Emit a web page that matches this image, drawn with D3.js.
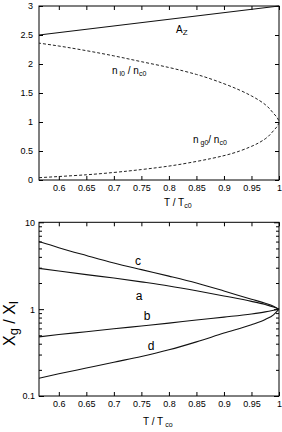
<!DOCTYPE html>
<html>
<head>
<meta charset="utf-8">
<script src="https://cdn.jsdelivr.net/npm/d3@7"></script>
<style>
  body { margin: 0; background: #fff; }
  svg { display: block; font-family: "Liberation Sans", Arial, sans-serif; }
  .tick line { stroke: #000; }
  .tick text { font-size: 9px; fill: #000; }
</style>
</head>
<body>
<script>
// top panel: A_z and coexistence densities vs T/Tc0
const tTop = [0.564, 0.6, 0.65, 0.7, 0.75, 0.8, 0.85, 0.9, 0.95, 0.975, 0.99, 0.997, 1.0];
const nLiq = [2.36, 2.31, 2.23, 2.14, 2.04, 1.94, 1.82, 1.66, 1.45, 1.30, 1.15, 1.07, 1.0];
const nGas = [0.04, 0.06, 0.09, 0.13, 0.18, 0.24, 0.32, 0.42, 0.58, 0.71, 0.85, 0.93, 1.0];
const tAz = [0.564, 1.0];
const az = [2.5, 3.0];

// bottom panel: Xg / Xl curves
const tBot = [0.564, 0.6, 0.65, 0.7, 0.75, 0.8, 0.85, 0.9, 0.95, 0.975, 0.99, 1.0];
const curveC = [6.0, 5.1, 4.15, 3.4, 2.85, 2.4, 2.0, 1.62, 1.3, 1.17, 1.08, 1.0];
const curveA = [2.95, 2.75, 2.5, 2.28, 2.06, 1.85, 1.63, 1.42, 1.23, 1.13, 1.06, 1.0];
const curveB = [0.48, 0.51, 0.55, 0.595, 0.64, 0.69, 0.75, 0.81, 0.88, 0.93, 0.97, 1.0];
const curveD = [0.16, 0.18, 0.21, 0.245, 0.285, 0.34, 0.42, 0.53, 0.66, 0.76, 0.86, 1.0];

const xTicks = [0.6, 0.65, 0.7, 0.75, 0.8, 0.85, 0.9, 0.95, 1];
const yTicksTop = [0, 0.5, 1, 1.5, 2, 2.5, 3];
const yTicksBot = [0.1, 1, 10];

const svg = d3.select("body").append("svg").attr("width", 282).attr("height", 432);

const left = 39, right = 279;
const plain = (d) => String(d);

function frame(g, y) {
  const [y0, y1] = y.range();
  g.append("rect")
    .attr("x", left).attr("y", y1)
    .attr("width", right - left).attr("height", y0 - y1)
    .attr("fill", "none").attr("stroke", "#000").attr("stroke-width", 1);
}

function xAxes(g, x, y) {
  const [y0, y1] = y.range();
  const b = g.append("g").attr("transform", `translate(0,${y0})`)
    .call(d3.axisBottom(x).tickValues(xTicks).tickSize(-4).tickSizeOuter(0).tickPadding(5).tickFormat(plain));
  b.select(".domain").remove();
  const t = g.append("g").attr("transform", `translate(0,${y1})`)
    .call(d3.axisTop(x).tickValues(xTicks).tickSize(-4).tickSizeOuter(0).tickFormat(""));
  t.select(".domain").remove();
}

function subLabel(g, x, y, parts, size) {
  const t = g.append("text").attr("x", x).attr("y", y).attr("font-size", size).attr("fill", "#000");
  parts.forEach((p) => {
    t.append("tspan").attr("dy", p.dy || 0).attr("font-size", p.size || size).text(p.text);
  });
  return t;
}

// ---------- top panel ----------
const xTop = d3.scaleLinear().domain([0.564, 1]).range([left, right]);
const yTop = d3.scaleLinear().domain([0, 3]).range([180, 6]);
const gTop = svg.append("g");

xAxes(gTop, xTop, yTop);
const lT = gTop.append("g").attr("transform", `translate(${left},0)`)
  .call(d3.axisLeft(yTop).tickValues(yTicksTop).tickSize(-4).tickSizeOuter(0).tickPadding(6).tickFormat(plain));
lT.select(".domain").remove();
const rT = gTop.append("g").attr("transform", `translate(${right},0)`)
  .call(d3.axisRight(yTop).tickValues(yTicksTop).tickSize(-4).tickSizeOuter(0).tickFormat(""));
rT.select(".domain").remove();
frame(gTop, yTop);

gTop.append("path")
  .datum(tAz.map((t, i) => [t, az[i]]))
  .attr("d", d3.line().x((d) => xTop(d[0])).y((d) => yTop(d[1])))
  .attr("fill", "none").attr("stroke", "#111").attr("stroke-width", 1.1);

// coexistence loop, ordered by density so T is a function of n
const loop = tTop.slice(0, -1).map((t, i) => [t, nGas[i]])
  .concat(tTop.map((t, i) => [t, nLiq[i]]).reverse());
gTop.append("path")
  .datum(loop)
  .attr("d", d3.line().x((d) => xTop(d[0])).y((d) => yTop(d[1])).curve(d3.curveMonotoneY))
  .attr("fill", "none").attr("stroke", "#222").attr("stroke-width", 1)
  .attr("stroke-dasharray", "3,2");

subLabel(gTop, 176, 33, [{ text: "A" }, { text: "Z", dy: 2, size: 8 }], 10);
subLabel(gTop, 112, 74, [
  { text: "n" }, { text: " l0", dy: 2, size: 7 }, { text: " / n", dy: -2 }, { text: "c0", dy: 2, size: 7 }
], 10);
subLabel(gTop, 193, 143, [
  { text: "n" }, { text: " g0", dy: 2, size: 7 }, { text: "/ n", dy: -2 }, { text: "c0", dy: 2, size: 7 }
], 10);
subLabel(gTop, 164, 206, [{ text: "T / T" }, { text: "c0", dy: 2, size: 7 }], 10);

// ---------- bottom panel ----------
const xBot = d3.scaleLinear().domain([0.564, 1]).range([left, right]);
const yBot = d3.scaleLog().domain([0.1, 10]).range([396, 222.3]);
const gBot = svg.append("g");

xAxes(gBot, xBot, yBot);
const minor = yBot.ticks().filter((v) => !yTicksBot.includes(v));
[[left, d3.axisLeft, true], [right, d3.axisRight, false]].forEach(([px, ax, lab]) => {
  const g1 = gBot.append("g").attr("transform", `translate(${px},0)`)
    .call(ax(yBot).tickValues(yTicksBot).tickSize(-5).tickSizeOuter(0).tickPadding(4)
      .tickFormat(lab ? plain : ""));
  g1.select(".domain").remove();
  const g2 = gBot.append("g").attr("transform", `translate(${px},0)`)
    .call(ax(yBot).tickValues(minor).tickSize(-3).tickSizeOuter(0).tickFormat(""));
  g2.select(".domain").remove();
});
frame(gBot, yBot);

const lineBot = d3.line().x((d) => xBot(d[0])).y((d) => yBot(d[1])).curve(d3.curveMonotoneX);
[curveC, curveA, curveB, curveD].forEach((vals) => {
  gBot.append("path")
    .datum(tBot.map((t, i) => [t, vals[i]]))
    .attr("d", lineBot).attr("fill", "none").attr("stroke", "#111").attr("stroke-width", 1.1);
});

const curveNames = ["c", "a", "b", "d"];
const namePos = [[138, 265], [139, 300], [147, 320], [151, 350]];
curveNames.forEach((n, i) => {
  gBot.append("text").attr("x", namePos[i][0]).attr("y", namePos[i][1])
    .attr("text-anchor", "middle").attr("font-size", 12).text(n);
});

subLabel(gBot, 143, 425, [{ text: "T / T" }, { text: " co", dy: 2, size: 7 }], 10);

const yl = gBot.append("text").attr("transform", "translate(15,346) rotate(-90)")
  .attr("font-size", 16).attr("fill", "#000");
yl.append("tspan").text("X");
yl.append("tspan").attr("dy", 3).attr("font-size", 13).text("g");
yl.append("tspan").attr("dy", -3).text(" / X");
yl.append("tspan").attr("dy", 3).attr("font-size", 13).text("l");
</script>
</body>
</html>
